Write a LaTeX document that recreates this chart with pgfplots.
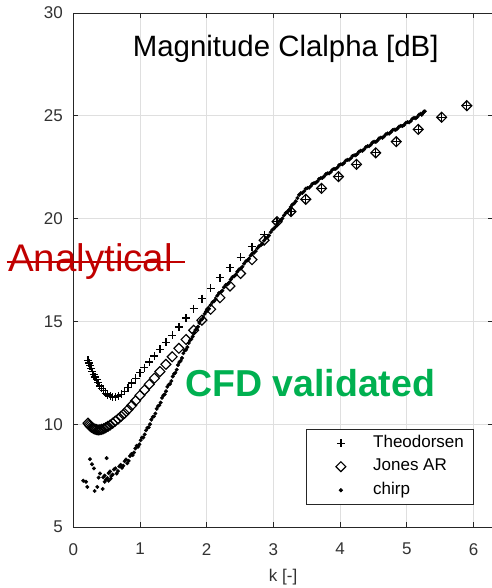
\documentclass[border=0pt]{standalone}
\usepackage{fontspec}
\setmainfont{Liberation Sans}
\usepackage{pgfplots}
\pgfplotsset{compat=1.18}
\definecolor{axgray}{RGB}{38,38,38}
\definecolor{tickgray}{RGB}{50,50,50}
\definecolor{gridgray}{RGB}{223,223,223}
\definecolor{anared}{RGB}{192,0,0}
\definecolor{cfdgreen}{RGB}{0,176,80}
\pgfplotsset{myleg/.style={legend image code/.code={\path[draw=none,fill=none] (0pt,-1pt) rectangle (58pt,1pt); \draw[##1] plot coordinates {(29pt,0pt)};}}}
\begin{document}
\begin{tikzpicture}
\begin{axis}[
  name=ax,
  scale only axis,
  x=66.7pt, y=20.56pt,
  xmin=0, xmax=6.29, ymin=5, ymax=30,
  xtick={0,1,2,3,4,5,6}, ytick={5,10,15,20,25,30},
  axis line style={draw=axgray, line width=0.8pt},
  tick style={draw=axgray, line width=0.8pt},
  tick align=inside, major tick length=5pt,
  grid=major, major grid style={draw=gridgray, line width=0.8pt},
  /pgf/number format/assume math mode=true,
  ticklabel style={font=\fontsize{17}{20}\selectfont, text=tickgray},
  xticklabel style={yshift=-12.7pt},
  yticklabel style={xshift=-7pt},
  xlabel={k [-]},
  xlabel style={at={(axis description cs:0.5,0)}, anchor=base, yshift=-54pt, font=\fontsize{17}{20}\selectfont, text=tickgray},
  legend style={at={(axis cs:6.0,9.77)}, anchor=north east, draw=axgray, line width=0.6pt, fill=white,
    font=\fontsize{17}{20}\selectfont, inner xsep=6pt, inner ysep=2.25pt,
    nodes={inner xsep=3.3pt, inner ysep=4pt, text height=12pt, text depth=3.5pt}},
  legend cell align=left,
]
\addplot[only marks, mark=+, mark size=4pt, line width=1.25pt, black, myleg] coordinates {
(0.220,13.10)(0.235,12.98)(0.251,12.85)(0.268,12.71)(0.286,12.56)(0.306,12.41)(0.327,12.29)(0.349,12.16)
(0.372,12.02)(0.398,11.86)(0.425,11.75)(0.454,11.63)(0.484,11.51)(0.517,11.42)(0.553,11.36)(0.590,11.31)
(0.630,11.32)(0.673,11.37)(0.719,11.46)(0.768,11.60)(0.820,11.78)(0.876,12.00)(0.935,12.24)(0.999,12.50)
(1.067,12.75)(1.139,13.03)(1.217,13.32)(1.299,13.64)(1.388,13.98)(1.482,14.33)(1.583,14.73)(1.690,15.16)
(1.805,15.62)(1.928,16.11)(2.059,16.61)(2.199,17.12)(2.349,17.62)(2.508,18.12)(2.679,18.63)(2.861,19.21)
(3.055,19.85)(3.263,20.34)(3.485,20.94)(3.722,21.47)(3.975,22.04)(4.245,22.64)(4.534,23.20)(4.842,23.74)
(5.171,24.34)(5.523,24.93)(5.899,25.49)(6.300,26.00)
};
\addlegendentry{Theodorsen}
\addplot[only marks, mark=square, mark options={rotate=45}, mark size=3.5pt, line width=1.15pt, black, myleg] coordinates {
(0.220,10.05)(0.235,9.98)(0.251,9.92)(0.268,9.86)(0.286,9.83)(0.306,9.79)(0.327,9.76)(0.349,9.74)
(0.372,9.72)(0.398,9.73)(0.425,9.75)(0.454,9.78)(0.484,9.83)(0.517,9.89)(0.553,9.96)(0.590,10.05)
(0.630,10.15)(0.673,10.26)(0.719,10.39)(0.768,10.53)(0.820,10.71)(0.876,10.91)(0.935,11.14)(0.999,11.40)
(1.067,11.66)(1.139,11.94)(1.217,12.24)(1.299,12.56)(1.388,12.91)(1.482,13.28)(1.583,13.69)(1.690,14.12)
(1.805,14.57)(1.928,15.06)(2.059,15.59)(2.199,16.15)(2.349,16.72)(2.508,17.33)(2.679,18.00)(2.861,18.95)
(3.055,19.85)(3.263,20.34)(3.485,20.94)(3.722,21.47)(3.975,22.04)(4.245,22.64)(4.534,23.20)(4.842,23.74)
(5.171,24.34)(5.523,24.93)(5.899,25.49)(6.300,26.00)
};
\addlegendentry{Jones AR}
\addplot[only marks, mark=*, mark size=1.8pt, black, myleg] coordinates {
(0.15,7.25)(0.19,7.20)(0.21,6.95)(0.25,8.30)(0.28,8.05)(0.31,7.85)(0.32,6.75)(0.36,6.95)
(0.38,7.40)(0.40,7.60)(0.44,6.85)(0.47,7.20)(0.50,8.35)(0.53,7.25)(0.56,7.35)
(0.45,7.42)(0.49,7.30)(0.53,7.62)(0.57,7.48)(0.61,7.80)(0.65,7.60)(0.69,7.95)(0.73,7.88)
(0.77,8.20)(0.81,8.10)(0.85,8.45)(0.89,8.50)(0.93,8.82)(0.97,8.90)(1.01,9.22)(1.05,9.35)
(1.09,9.70)(1.13,9.85)(1.17,10.22)(1.21,10.38)(1.25,10.75)(1.29,10.92)(1.33,11.28)(1.37,11.45)
(1.41,11.82)(1.45,11.96)(1.49,12.32)(1.53,12.50)(1.57,12.88)(1.61,13.08)(1.65,13.45)(1.69,13.62)
(1.73,13.95)(1.77,14.14)(1.81,14.45)(1.85,14.62)(1.89,14.93)(1.93,15.10)(1.97,15.37)(2.01,15.52)
(2.06,15.80)(2.11,15.98)(2.16,16.26)(2.21,16.42)(2.26,16.66)(2.31,16.80)(2.36,17.04)(2.41,17.19)
(2.46,17.42)(2.51,17.57)(2.56,17.81)(2.61,17.97)(2.66,18.21)(2.71,18.34)(2.76,18.56)(2.81,18.70)
(2.86,18.93)(2.91,19.08)(2.96,19.34)(3.01,19.52)(3.06,19.76)(3.11,19.92)(3.16,20.16)(3.21,20.32)
(3.26,20.56)(3.31,20.74)(3.36,21.00)(3.41,21.24)(3.46,21.33)(3.51,21.49)(3.56,21.58)(3.61,21.73)
(3.66,21.81)(3.71,21.97)(3.76,22.05)(3.81,22.20)(3.86,22.27)(3.91,22.42)(3.96,22.49)(4.01,22.64)
(4.06,22.71)(4.11,22.86)(4.16,22.93)(4.21,23.08)(4.26,23.15)(4.31,23.30)(4.36,23.37)(4.41,23.52)
(4.46,23.59)(4.51,23.74)(4.56,23.80)(4.61,23.94)(4.66,24.00)(4.71,24.14)(4.76,24.20)(4.81,24.33)
(4.86,24.38)(4.91,24.51)(4.96,24.56)(5.01,24.69)(5.06,24.75)(5.11,24.90)(5.16,24.95)(5.21,25.10)
(5.24,25.12)(5.27,25.22)
(0.47,7.50)(0.51,7.38)(0.55,7.70)(0.59,7.55)(0.63,7.85)(0.67,7.72)(0.71,8.02)(0.75,7.98)
(0.79,8.28)(0.83,8.22)(0.87,8.55)(0.91,8.62)(0.95,8.95)(0.99,9.02)(1.03,9.35)(1.07,9.50)
(1.11,9.82)(1.15,10.00)(1.19,10.35)(1.23,10.52)(1.27,10.88)(1.31,11.05)(1.35,11.40)(1.39,11.60)
(1.43,11.92)(1.47,12.10)(1.51,12.45)(1.55,12.65)(1.59,13.02)(1.63,13.22)(1.67,13.58)(1.71,13.75)
(1.75,14.08)(1.79,14.26)(1.83,14.58)(1.87,14.74)(1.91,15.06)(1.95,15.20)(1.99,15.48)
(2.035,15.62)(2.085,15.93)(2.135,16.08)(2.185,16.38)(2.235,16.50)(2.285,16.77)(2.335,16.88)(2.385,17.15)
(2.435,17.27)(2.485,17.53)(2.535,17.66)(2.585,17.92)(2.635,18.05)(2.685,18.31)(2.735,18.42)(2.785,18.66)
(2.835,18.78)(2.885,19.04)(2.935,19.18)(2.985,19.46)(3.035,19.61)(3.085,19.87)(3.135,20.01)(3.185,20.27)
(3.235,20.41)(3.285,20.68)(3.335,20.84)(3.385,21.15)(3.435,21.25)(3.485,21.45)(3.535,21.50)(3.585,21.69)
(3.635,21.74)(3.685,21.93)(3.735,21.98)(3.785,22.16)(3.835,22.20)(3.885,22.38)(3.935,22.42)(3.985,22.60)
(4.035,22.64)(4.085,22.82)(4.135,22.86)(4.185,23.04)(4.235,23.08)(4.285,23.26)(4.335,23.30)(4.385,23.48)
(4.435,23.52)(4.485,23.70)(4.535,23.73)(4.585,23.90)(4.635,23.93)(4.685,24.10)(4.735,24.13)(4.785,24.30)
(4.835,24.32)(4.885,24.48)(4.935,24.50)(4.985,24.66)(5.035,24.68)(5.085,24.86)(5.135,24.88)(5.185,25.06)
(5.225,25.05)(5.255,25.20)
};
\addlegendentry{chirp}
\end{axis}
\node[anchor=base, inner sep=0pt, font=\fontsize{29.4}{32}\selectfont, text=black] at ([shift={(212.4pt,470.3pt)}]ax.south west) {Magnitude Clalpha [dB]};
\node[anchor=base west, inner sep=0pt, font=\fontsize{38.5}{40}\selectfont, text=anared] at ([shift={(-65.3pt,255.3pt)}]ax.south west) {Analytical};
\draw[anared, line width=1.6pt] ([shift={(-66.6pt,264.7pt)}]ax.south west) -- ++(178.3pt,0pt);
\node[anchor=base west, inner sep=0pt, font=\fontsize{37.5}{40}\selectfont\bfseries, text=cfdgreen] at ([shift={(111.7pt,130pt)}]ax.south west) {CFD validated};
\pgfresetboundingbox
\path[use as bounding box] (ax.south west) ++(-73.3pt,-61pt) rectangle ++(491pt,588pt);
\end{tikzpicture}
\end{document}
